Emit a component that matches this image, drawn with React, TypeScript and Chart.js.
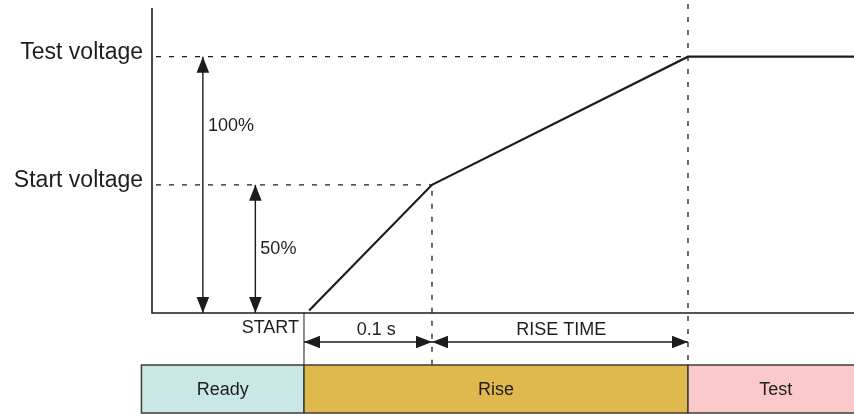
import { useEffect, useRef } from 'react';
import { Chart, registerables } from 'chart.js';

Chart.register(...registerables);

// ---- data ----
const timeValues = [0.004, 0.1, 0.3, 0.43];
const voltageValues = [1, 50, 100, 100];

const levelLabels = ['Start voltage', 'Test voltage'];
const levelValues = [50, 100];

const percentLabels = ['50%', '100%'];
const percentArrowTimes = [-0.038, -0.079];
const percentLabelValues = [25, 73];

const intervalLabels = ['0.1 s', 'RISE TIME'];
const intervalStarts = [0, 0.1];
const intervalEnds = [0.1, 0.3];
const intervalLabelTimes = [0.0565, 0.201];

const startLabel = 'START';
const startTime = 0;

const phaseLabels = ['Ready', 'Rise', 'Test'];
const phaseStarts = [-0.127, 0, 0.3];
const phaseEnds = [0, 0.3, 0.437];
const phaseColors = ['#c9e8e5', '#dfb84e', '#f9c9cc'];

const X_MIN = -0.11875;
const X_MAX = 0.4297;
const Y_MAX = 119;

const INK = '#1e1b1c';
const TEXT = '#1e1e1e';
const FONT = "'Liberation Sans', Arial, sans-serif";

function arrowHead(ctx: CanvasRenderingContext2D, tx: number, ty: number, dx: number, dy: number) {
  const len = 16;
  const half = 6.3;
  const bx = tx - dx * len;
  const by = ty - dy * len;
  const px = -dy;
  const py = dx;
  ctx.beginPath();
  ctx.moveTo(tx, ty);
  ctx.lineTo(bx + px * half, by + py * half);
  ctx.lineTo(bx - px * half, by - py * half);
  ctx.closePath();
  ctx.fill();
}

function doubleArrow(ctx: CanvasRenderingContext2D, x1: number, y1: number, x2: number, y2: number) {
  const L = Math.hypot(x2 - x1, y2 - y1);
  const dx = (x2 - x1) / L;
  const dy = (y2 - y1) / L;
  ctx.beginPath();
  ctx.moveTo(x1, y1);
  ctx.lineTo(x2, y2);
  ctx.stroke();
  arrowHead(ctx, x2, y2, dx, dy);
  arrowHead(ctx, x1, y1, -dx, -dy);
}

export default function App() {
  const ref = useRef<HTMLCanvasElement>(null);

  useEffect(() => {
    const canvas = ref.current;
    if (!canvas) return;

    const BOX_TOP = 365;
    const BOX_BOTTOM = 413;
    const ARROW_Y = 342;

    const plugin = {
      id: 'diagram',
      beforeDatasetsDraw(chart: any) {
        const ctx: CanvasRenderingContext2D = chart.ctx;
        const xs = chart.scales.x;
        const ys = chart.scales.y;
        const area = chart.chartArea;
        ctx.save();
        ctx.strokeStyle = INK;
        ctx.lineWidth = 1.3;
        ctx.setLineDash([5, 8]);
        // horizontal dashed lines
        const hEnds = [intervalEnds[0], intervalEnds[1]];
        levelValues.forEach((v, i) => {
          const y = ys.getPixelForValue(v);
          ctx.beginPath();
          ctx.moveTo(area.left + 4, y);
          ctx.lineTo(xs.getPixelForValue(hEnds[i]), y);
          ctx.stroke();
        });
        // vertical dashed lines
        const x1 = xs.getPixelForValue(intervalEnds[0]);
        ctx.beginPath();
        ctx.moveTo(x1, ys.getPixelForValue(levelValues[0]) + 6);
        ctx.lineTo(x1, BOX_TOP);
        ctx.stroke();
        const x2 = xs.getPixelForValue(intervalEnds[1]);
        ctx.beginPath();
        ctx.moveTo(x2, 4);
        ctx.lineTo(x2, BOX_TOP);
        ctx.stroke();
        ctx.restore();
      },
      afterDatasetsDraw(chart: any) {
        const ctx: CanvasRenderingContext2D = chart.ctx;
        const xs = chart.scales.x;
        const ys = chart.scales.y;
        const area = chart.chartArea;
        ctx.save();
        ctx.setLineDash([]);

        // axes
        ctx.strokeStyle = INK;
        ctx.lineWidth = 1.6;
        ctx.beginPath();
        ctx.moveTo(area.left, area.top);
        ctx.lineTo(area.left, area.bottom);
        ctx.lineTo(area.right, area.bottom);
        ctx.stroke();

        // START marker
        const xs0 = xs.getPixelForValue(startTime);
        ctx.lineWidth = 1;
        ctx.beginPath();
        ctx.moveTo(xs0, area.bottom);
        ctx.lineTo(xs0, BOX_TOP);
        ctx.stroke();

        // level labels
        ctx.fillStyle = TEXT;
        ctx.font = `23px ${FONT}`;
        ctx.textAlign = 'right';
        ctx.textBaseline = 'alphabetic';
        levelLabels.forEach((lab, i) => {
          ctx.fillText(lab, 143, ys.getPixelForValue(levelValues[i]) + 2);
        });

        // percent arrows
        ctx.fillStyle = INK;
        ctx.lineWidth = 1.4;
        percentArrowTimes.forEach((t, i) => {
          const x = xs.getPixelForValue(t);
          doubleArrow(ctx, x, ys.getPixelForValue(levelValues[i]), x, ys.getPixelForValue(0));
        });
        ctx.fillStyle = TEXT;
        ctx.font = `18px ${FONT}`;
        ctx.textAlign = 'left';
        ctx.textBaseline = 'middle';
        percentLabels.forEach((lab, i) => {
          const x = xs.getPixelForValue(percentArrowTimes[i]);
          ctx.fillText(lab, x + 5, ys.getPixelForValue(percentLabelValues[i]));
        });

        // START label
        ctx.textAlign = 'right';
        ctx.textBaseline = 'alphabetic';
        ctx.fillText(startLabel, xs0 - 5, 333);

        // interval arrows
        ctx.fillStyle = INK;
        intervalStarts.forEach((s, i) => {
          doubleArrow(ctx, xs.getPixelForValue(s), ARROW_Y, xs.getPixelForValue(intervalEnds[i]), ARROW_Y);
        });
        ctx.fillStyle = TEXT;
        ctx.textAlign = 'center';
        intervalLabels.forEach((lab, i) => {
          ctx.fillText(lab, xs.getPixelForValue(intervalLabelTimes[i]), 335);
        });

        // phase boxes
        phaseLabels.forEach((lab, i) => {
          const a = xs.getPixelForValue(phaseStarts[i]);
          const b = xs.getPixelForValue(phaseEnds[i]);
          ctx.fillStyle = phaseColors[i];
          ctx.fillRect(a, BOX_TOP, b - a, BOX_BOTTOM - BOX_TOP);
          ctx.strokeStyle = '#3c3c3c';
          ctx.lineWidth = 1.5;
          ctx.strokeRect(a, BOX_TOP, b - a, BOX_BOTTOM - BOX_TOP);
          ctx.fillStyle = TEXT;
          ctx.textAlign = 'center';
          ctx.textBaseline = 'middle';
          ctx.font = `18px ${FONT}`;
          ctx.fillText(lab, (a + b) / 2, (BOX_TOP + BOX_BOTTOM) / 2 + 1);
        });

        ctx.restore();
      },
    };

    const chart = new Chart(canvas, {
      type: 'line',
      data: {
        datasets: [
          {
            label: 'Voltage',
            data: timeValues.map((t, i) => ({ x: t, y: voltageValues[i] })),
            borderColor: INK,
            borderWidth: 2.2,
            pointRadius: 0,
            tension: 0,
            fill: false,
          },
        ],
      },
      options: {
        responsive: false,
        animation: false,
        devicePixelRatio: 1,
        layout: { padding: { left: 152, right: 0, top: 8, bottom: 101 } },
        scales: {
          x: { type: 'linear', display: false, min: X_MIN, max: X_MAX },
          y: { type: 'linear', display: false, min: 0, max: Y_MAX },
        },
        plugins: { legend: { display: false }, tooltip: { enabled: false } },
        events: [],
      },
      plugins: [plugin],
    } as any);

    return () => chart.destroy();
  }, []);

  return (
    <div style={{ position: 'absolute', left: 0, top: 0, width: 854, height: 414, background: '#ffffff' }}>
      <canvas ref={ref} width={854} height={414} style={{ display: 'block' }} />
    </div>
  );
}
